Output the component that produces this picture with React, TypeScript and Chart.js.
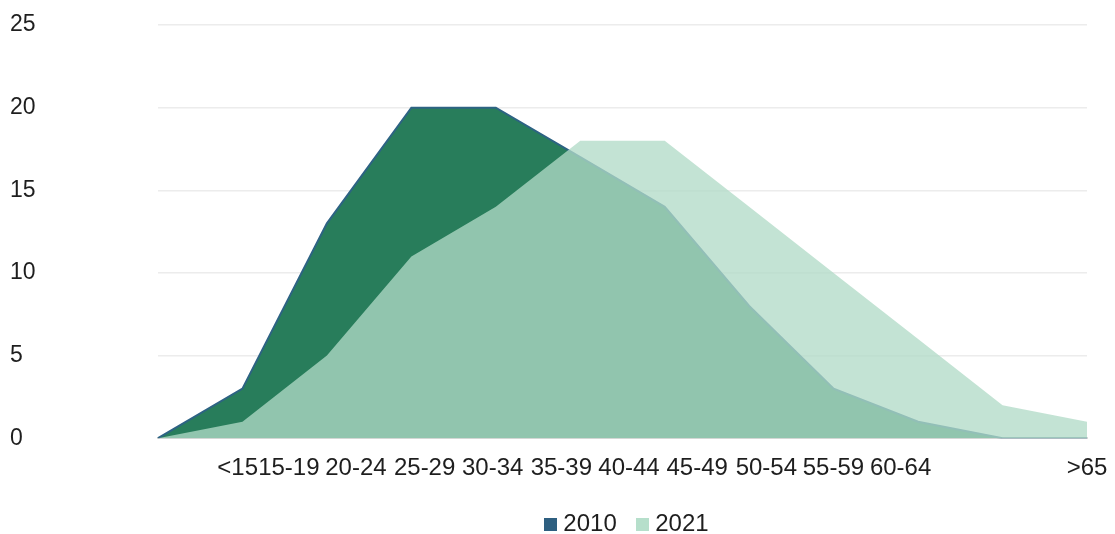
import React, { useEffect, useRef } from "react";
import { Chart, registerables } from "chart.js";

Chart.register(...registerables);

const ageGroups = ["<15", "15-19", "20-24", "25-29", "30-34", "35-39", "40-44", "45-49", "50-54", "55-59", "60-64", ">65"];
const values2010 = [0, 3, 13, 20, 20, 17, 14, 8, 3, 1, 0, 0];
const values2021 = [0, 1, 5, 11, 14, 18, 18, 14, 10, 6, 2, 1];
const yTicks = [0, 5, 10, 15, 20, 25];
// where each age label sits along the category index scale (as in the source)
const labelSlots = [0.943, 1.549, 2.344, 3.157, 3.963, 4.776, 5.577, 6.384, 7.203, 7.998, 8.793, 11];

const FAMILY = "'Liberation Sans', Arial, sans-serif";
const TEXT = "#1e1e1e";

function swatch(color: string) {
  const c = document.createElement("canvas");
  c.width = 13;
  c.height = 13;
  const g = c.getContext("2d");
  if (g) {
    g.fillStyle = color;
    g.fillRect(0, 0, 13, 13);
  }
  return c;
}

export default function App() {
  const ref = useRef<HTMLCanvasElement | null>(null);

  useEffect(() => {
    if (!ref.current) return;
    const legendColors = ["#2e5f80", "#b6dfcb"];
    const swatches = legendColors.map(swatch);
    const legendShift = {
      id: "legendShift",
      afterLayout(chart: any) {
        const l = chart.legend;
        if (l) {
          l.left += 7;
          l.right += 7;
        }
      },
    };
    const chart = new Chart(ref.current, {
      type: "line",
      data: {
        labels: ageGroups,
        datasets: [
          {
            label: "2010",
            data: values2010,
            fill: "origin",
            backgroundColor: "#287d5b",
            borderColor: "#2d6383",
            borderWidth: 2,
            pointRadius: 0,
            tension: 0,
            order: 2,
          },
          {
            label: "2021",
            data: values2021,
            fill: "origin",
            backgroundColor: "rgba(177,218,199,0.77)",
            borderColor: "rgba(0,0,0,0)",
            borderWidth: 0,
            pointRadius: 0,
            tension: 0,
            order: 1,
          },
        ],
      },
      options: {
        animation: false,
        responsive: false,
        events: [],
        layout: { padding: { left: 10, top: 25, right: 28, bottom: -12 } },
        scales: {
          x: { type: "category", display: false, offset: false },
          xl: {
            type: "linear",
            position: "bottom",
            z: 1,
            min: 0,
            max: ageGroups.length - 1,
            grid: { display: false, drawTicks: false },
            border: { display: true, color: "#d9d9d9", width: 2 },
            afterBuildTicks: (axis: any) => {
              axis.ticks = labelSlots.map((v) => ({ value: v }));
            },
            afterFit: (axis: any) => {
              axis.paddingLeft = 0;
              axis.paddingRight = 0;
              axis.height = axis.height - 11.5;
            },
            ticks: {
              autoSkip: false,
              maxRotation: 0,
              minRotation: 0,
              font: { family: FAMILY, size: 24 },
              color: TEXT,
              padding: 15.5,
              callback: (_v: any, i: number) => ageGroups[i],
            },
          },
          y: {
            min: 0,
            max: 25,
            afterBuildTicks: (axis: any) => {
              axis.ticks = yTicks.map((v) => ({ value: v }));
            },
            afterFit: (axis: any) => {
              axis.width = 148;
            },
            ticks: { crossAlign: "far", font: { family: FAMILY, size: 23 }, color: TEXT, padding: 8 },
            grid: {
              drawTicks: false,
              color: (ctx: any) => (ctx.tick && ctx.tick.value === 0 ? "rgba(0,0,0,0)" : "#ececec"),
              lineWidth: 1.5,
            },
            border: { display: false },
          },
        },
        plugins: {
          tooltip: { enabled: false },
          legend: {
            position: "bottom",
            fullSize: false,
            labels: {
              usePointStyle: true,
              boxWidth: 1,
              boxHeight: 13,
              padding: 25.5,
              font: { family: FAMILY, size: 24 },
              color: TEXT,
              sort: (a: any, b: any) => a.datasetIndex - b.datasetIndex,
              generateLabels: (c: any) =>
                Chart.defaults.plugins.legend.labels.generateLabels(c).map((it: any) => ({
                  ...it,
                  pointStyle: swatches[it.datasetIndex],
                  fillStyle: legendColors[it.datasetIndex],
                  strokeStyle: legendColors[it.datasetIndex],
                  lineWidth: 0,
                })),
            },
          },
        },
      } as any,
      plugins: [legendShift],
    });
    return () => chart.destroy();
  }, []);

  return (
    <div style={{ position: "absolute", left: 0, top: 0, width: 1115, height: 534, overflow: "hidden", background: "#fff" }}>
      <canvas ref={ref} width={1115} height={534} style={{ display: "block", width: 1115, height: 534 }} />
    </div>
  );
}
